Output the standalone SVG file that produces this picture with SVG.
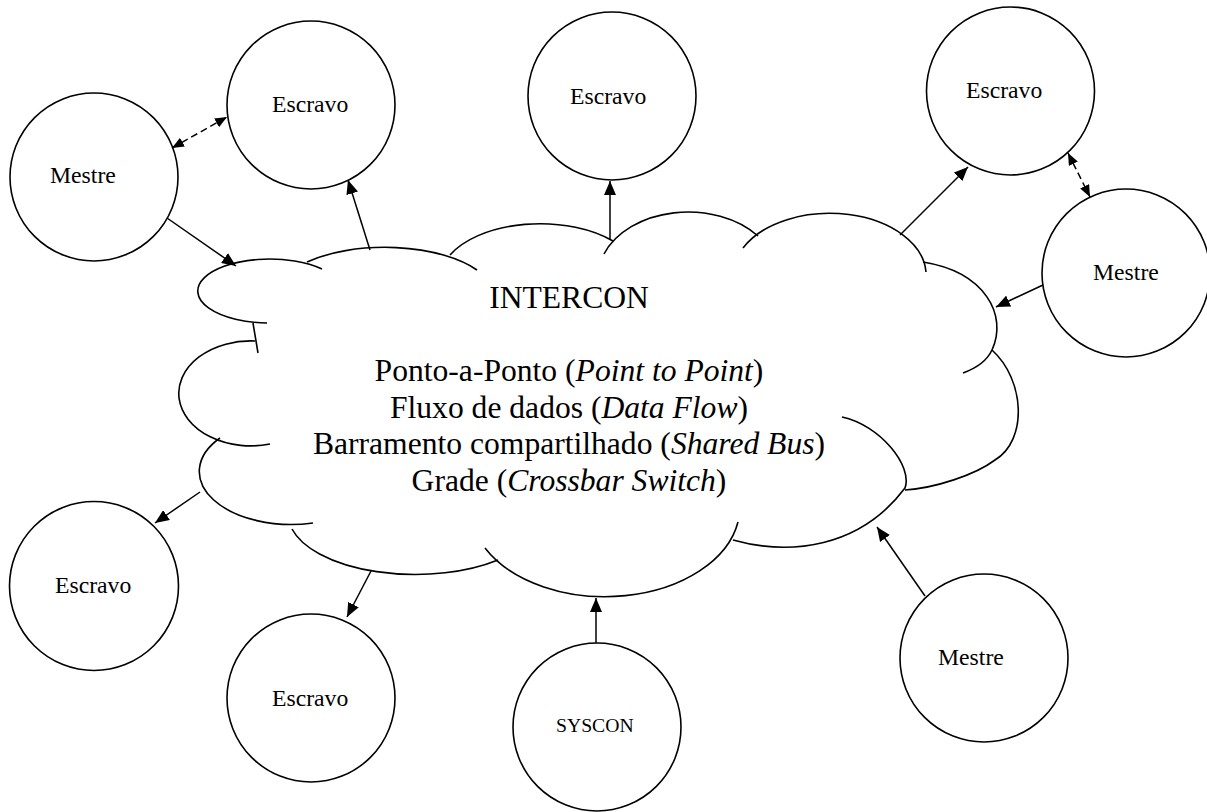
<svg xmlns="http://www.w3.org/2000/svg" width="1207" height="812" viewBox="0 0 1207 812">
<style>
.node{fill:#fff;stroke:#000;stroke-width:1.6}
.lbl{font-family:"Liberation Serif","Times New Roman",serif;font-size:23.7px;fill:#000}
.sys{font-size:19.7px}
.cl{fill:none;stroke:#000;stroke-width:1.6}
.main{font-family:"Liberation Serif","Times New Roman",serif;font-size:31.6px;fill:#000;text-anchor:middle}
.arr{fill:none;stroke:#000;stroke-width:1.5;marker-end:url(#ah)}
.dash{fill:none;stroke:#000;stroke-width:1.5;stroke-dasharray:7 4;marker-start:url(#ahs);marker-end:url(#ahs)}
</style>
<defs>
<marker id="ah" viewBox="0 0 14 12" refX="14" refY="6" markerWidth="14" markerHeight="12" markerUnits="userSpaceOnUse" orient="auto"><path d="M0,0L14,6L0,12z" fill="#000"/></marker>
<marker id="ahs" viewBox="0 0 12 10" refX="12" refY="5" markerWidth="12" markerHeight="10" markerUnits="userSpaceOnUse" orient="auto-start-reverse"><path d="M0,0L12,5L0,10z" fill="#000"/></marker>
</defs>
<rect width="1207" height="812" fill="#fff"/>

<!-- central cloud: outer lobes plus their short inner continuations -->
<g id="intercon">
<path class="cl" d="M267,323 A72,32 0 1 1 322,269"/>
<path class="cl" d="M253,323 Q255.5,338 258,353"/>
<path class="cl" d="M255,341 A72,52.5 0 1 0 270,444"/>
<path class="cl" d="M220,438 A92,53 0 0 0 313,523"/>
<path class="cl" d="M292,529 A127,60 0 0 0 498,560"/>
<path class="cl" d="M485,548 A135,90 0 0 0 738,522"/>
<path class="cl" d="M733,540 C790,556 860,548 905,488 C913,466 880,425 842,417"/>
<path class="cl" d="M992,350 C1025,380 1028,440 995,460 C975,475 935,488 905,490"/>
<path class="cl" d="M923,262 C985,272 1008,315 992,350 Q985,365 963,373"/>
<path class="cl" d="M743,248 A96.5,62 0 0 1 926,272"/>
<path class="cl" d="M604,254 A90,65 0 0 1 758,236"/>
<path class="cl" d="M450,255 A100,55 0 0 1 613,241"/>
<path class="cl" d="M307,262 A110,50 0 0 1 477,270"/>
<text class="main" x="569" y="308">INTERCON</text>
<text class="main" x="569" y="381">Ponto-a-Ponto (<tspan font-style="italic">Point to Point</tspan>)</text>
<text class="main" x="569" y="417.5">Fluxo de dados (<tspan font-style="italic">Data Flow</tspan>)</text>
<text class="main" x="569" y="454">Barramento compartilhado (<tspan font-style="italic">Shared Bus</tspan>)</text>
<text class="main" x="569" y="490.8">Grade (<tspan font-style="italic">Crossbar Switch</tspan>)</text>
</g>

<g id="mestre-1"><circle class="node" cx="94" cy="177" r="84"/><text class="lbl" x="50" y="183">Mestre</text></g>
<g id="escravo-1"><circle class="node" cx="311" cy="105" r="84"/><text class="lbl" x="272" y="112">Escravo</text></g>
<g id="escravo-2"><circle class="node" cx="612" cy="96" r="84"/><text class="lbl" x="570" y="104">Escravo</text></g>
<g id="escravo-3"><circle class="node" cx="1010.5" cy="91" r="84"/><text class="lbl" x="966" y="98">Escravo</text></g>
<g id="mestre-2"><circle class="node" cx="1126" cy="273" r="84"/><text class="lbl" x="1093" y="280">Mestre</text></g>
<g id="mestre-3"><circle class="node" cx="984" cy="658" r="84"/><text class="lbl" x="938" y="665">Mestre</text></g>
<g id="syscon"><circle class="node" cx="597" cy="727" r="84"/><text class="lbl sys" x="556" y="732">SYSCON</text></g>
<g id="escravo-4"><circle class="node" cx="311" cy="698" r="84"/><text class="lbl" x="272" y="706">Escravo</text></g>
<g id="escravo-5"><circle class="node" cx="94" cy="586" r="84.5"/><text class="lbl" x="55" y="593">Escravo</text></g>

<g id="connectors">
<path class="arr" d="M167,218 L236,266"/>
<path class="arr" d="M370,250 L348,180"/>
<path class="dash" d="M172,148 L227,117"/>
<path class="arr" d="M610,240 L610,181"/>
<path class="arr" d="M900,235 L968,167"/>
<path class="dash" d="M1068,153 L1090,197"/>
<path class="arr" d="M1043,285 L996,307"/>
<path class="arr" d="M925,596 L877,527"/>
<path class="arr" d="M596,643 L596,598"/>
<path class="arr" d="M371,571 L347,617"/>
<path class="arr" d="M200,492 L155,523"/>
</g>
</svg>
